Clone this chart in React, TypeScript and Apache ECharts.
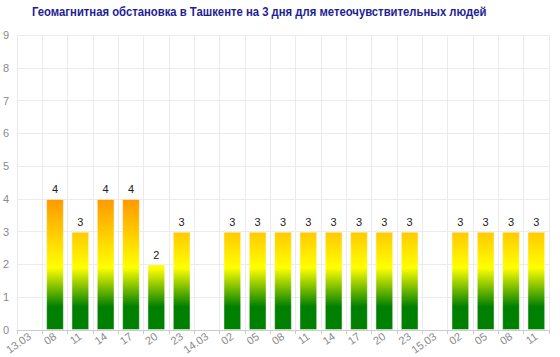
import React, { useEffect, useRef } from "react";
import * as echarts from "echarts";

const categories = ["13.03", "08", "11", "14", "17", "20", "23", "14.03", "02", "05", "08", "11", "14", "17", "20", "23", "15.03", "02", "05", "08", "11"];
const values: (number | null)[] = [null, 4, 3, 4, 4, 2, 3, null, 3, 3, 3, 3, 3, 3, 3, 3, null, 3, 3, 3, 3];
const yTicks = [0, 1, 2, 3, 4, 5, 6, 7, 8, 9];
const titleText = "Геомагнитная обстановка в Ташкенте на 3 дня для метеочувствительных людей";

// colour scale in value space
const gradTop = 4;
const valueStops: [number, string][] = [
  [4, "#ff9900"],
  [1.9, "#ffff00"],
  [0.7, "#008000"],
  [0, "#008000"],
];

function barColor(v: number) {
  const y0 = 1 - gradTop / v;
  return new echarts.graphic.LinearGradient(
    0, y0, 0, 1,
    valueStops.map(([s, c]) => ({ offset: 1 - s / gradTop, color: c }))
  );
}

const FONT = "Liberation Sans, Arial, sans-serif";

export default function App() {
  const ref = useRef<HTMLDivElement>(null);
  useEffect(() => {
    if (!ref.current) return;
    const chart = echarts.init(ref.current, null, { renderer: "svg" });
    chart.setOption({
      animation: false,
      graphic: [
        {
          type: "text",
          x: 32,
          y: 5,
          scaleX: 0.87,
          style: {
            text: titleText,
            font: `bold 13px ${FONT}`,
            fill: "#1e1e96",
          },
        },
      ],
      grid: { left: 17, right: 11, top: 35, bottom: 27, outerBoundsMode: "none", containLabel: false },
      xAxis: {
        type: "category",
        data: categories,
        axisLine: { lineStyle: { color: "#cccccc" } },
        axisTick: { show: true, length: 4, lineStyle: { color: "#cccccc" }, interval: 0 },
        axisLabel: { interval: 0, rotate: 35, color: "#8a8a8a", fontSize: 11, margin: 5, fontFamily: FONT },
        splitLine: { show: true, interval: 0, lineStyle: { color: "#ebebeb" } },
      },
      yAxis: {
        type: "value",
        min: yTicks[0],
        max: yTicks[yTicks.length - 1],
        interval: 1,
        axisLine: { show: false },
        axisTick: { show: false },
        axisLabel: { color: "#8a8a8a", fontSize: 11, margin: 8, fontFamily: FONT },
        splitLine: { lineStyle: { color: "#ebebeb" } },
      },
      series: [
        {
          type: "bar",
          barWidth: "70%",
          data: values.map((v) =>
            v == null
              ? "-"
              : {
                  value: v,
                  itemStyle: { color: barColor(v), borderColor: "rgba(255,255,255,0.45)", borderWidth: 1 },
                }
          ),
          label: {
            show: true,
            position: "top",
            distance: 4,
            color: "#222222",
            fontSize: 11,
            fontFamily: FONT,
          },
        },
      ],
    });
    return () => chart.dispose();
  }, []);
  return <div ref={ref} style={{ width: 560, height: 357, position: "absolute", left: 0, top: 0 }} />;
}
